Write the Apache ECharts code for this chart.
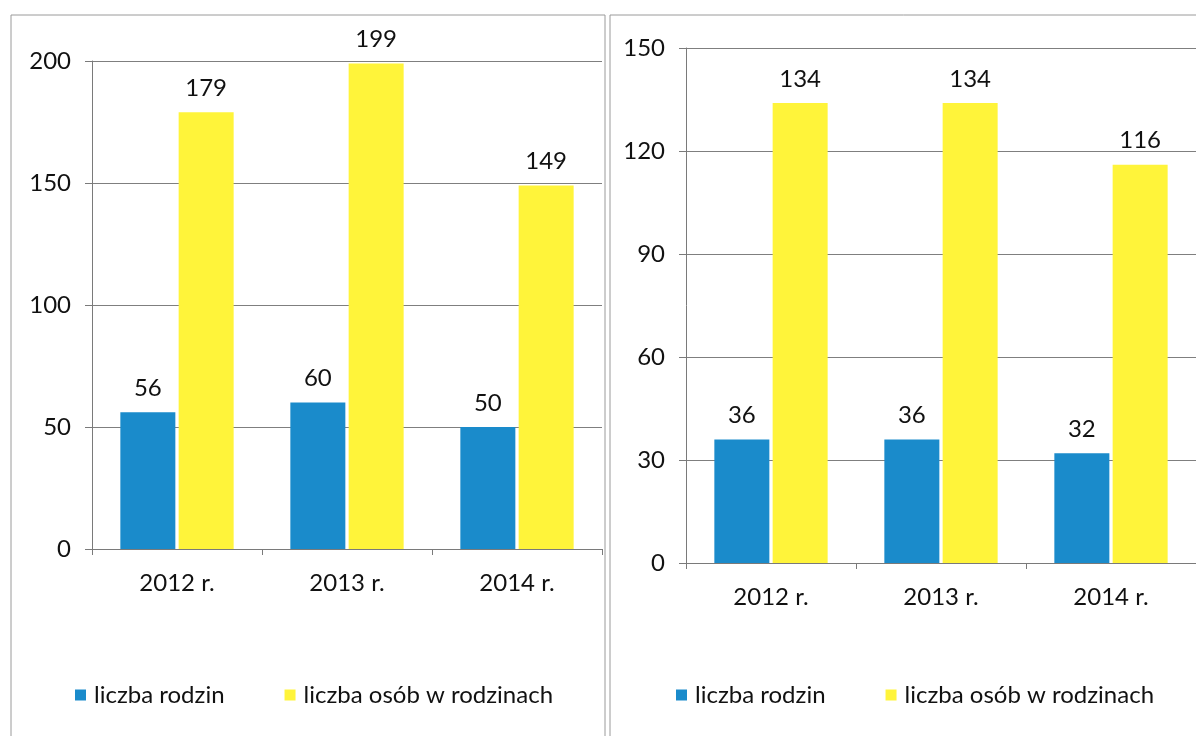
<!DOCTYPE html>
<html><head><meta charset="utf-8">
<script src="https://cdn.jsdelivr.net/npm/echarts@6/dist/echarts.min.js"></script>
<style>html,body{margin:0;padding:0;background:#fff}#c{width:1196px;height:736px}</style>
</head><body><div id="c"></div>
<script>
const categories = ['2012 r.', '2013 r.', '2014 r.'];
const seriesNames = ['liczba rodzin', 'liczba osób w rodzinach'];
const leftFamilies = [56, 60, 50];
const leftPersons = [179, 199, 149];
const rightFamilies = [36, 36, 32];
const rightPersons = [134, 134, 116];
const leftTicks = {min: 0, max: 200, interval: 50};
const rightTicks = {min: 0, max: 150, interval: 30};

const FONT = 'Lato';
const FS = 24;
const BLUE = '#1a8bcb';
const YELLOW = '#fff43a';
const AXIS = '#7a7a7a';

function xAxis(gi){
  return {type:'category', gridIndex:gi, data:categories,
    axisLine:{lineStyle:{color:AXIS}}, axisTick:{show:true, length:6, lineStyle:{color:AXIS}},
    axisLabel:{color:'#111', fontFamily:FONT, fontSize:FS, margin:22}};
}
function yAxis(gi, t){
  return {type:'value', gridIndex:gi, min:t.min, max:t.max, interval:t.interval,
    axisLine:{show:true, lineStyle:{color:AXIS}}, axisTick:{show:true, length:7, lineStyle:{color:AXIS}},
    splitLine:{lineStyle:{color:'#7f7f7f', width:1}},
    axisLabel:{color:'#111', fontFamily:FONT, fontSize:FS, margin:21}};
}
function bar(name, data, gi, color){
  return {type:'bar', name, data, xAxisIndex:gi, yAxisIndex:gi, barWidth:55, barGap:'6%',
    itemStyle:{color}, label:{show:true, position:'top', distance:12, color:'#111', fontFamily:FONT, fontSize:FS}};
}
const chart = echarts.init(document.getElementById('c'));
chart.setOption({
  animation:false,
  grid:[{left:92, right:594, top:61, bottom:187},{left:686, right:0, top:48, bottom:173}],
  xAxis:[xAxis(0), xAxis(1)],
  yAxis:[yAxis(0, leftTicks), yAxis(1, rightTicks)],
  legend:[
    {left:70, top:678, itemWidth:11, itemHeight:11, itemGap:60, icon:'rect', data:seriesNames,
     textStyle:{fontFamily:FONT, fontSize:FS, color:'#111', padding:[0,0,0,3]}},
    {left:671, top:678, itemWidth:11, itemHeight:11, itemGap:60, icon:'rect', data:seriesNames,
     textStyle:{fontFamily:FONT, fontSize:FS, color:'#111', padding:[0,0,0,3]}}
  ],
  series:[
    bar(seriesNames[0], leftFamilies, 0, BLUE),
    bar(seriesNames[1], leftPersons, 0, YELLOW),
    bar(seriesNames[0], rightFamilies, 1, BLUE),
    bar(seriesNames[1], rightPersons, 1, YELLOW)
  ],
  graphic:[
    {type:'rect', shape:{x:11, y:15, width:594, height:740}, style:{fill:null, stroke:'#9a9a9a', lineWidth:1}, silent:true},
    {type:'rect', shape:{x:610, y:15, width:600, height:740}, style:{fill:null, stroke:'#9a9a9a', lineWidth:1}, silent:true}
  ]
});
</script></body></html>
